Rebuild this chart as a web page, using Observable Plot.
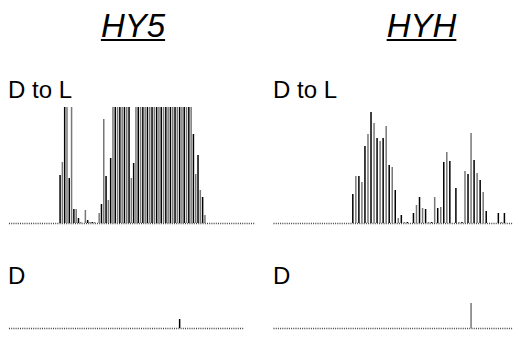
<!DOCTYPE html>
<html><head><meta charset="utf-8">
<script src="https://cdn.jsdelivr.net/npm/d3@7"></script>
<script src="https://cdn.jsdelivr.net/npm/@observablehq/plot@0.6"></script>
<style>
html,body{margin:0;padding:0;background:#fff;}
#wrap{position:relative;width:515px;height:358px;overflow:hidden;font-family:"Liberation Sans",Arial,sans-serif;}
.t{position:absolute;line-height:1;white-space:nowrap;color:#000;}
.title{font-size:33px;font-style:italic;text-decoration:underline;text-decoration-thickness:2px;text-underline-offset:2px;width:200px;text-align:center;}
.lab{font-size:24px;}
.p{position:absolute;}
</style></head><body>
<div id="wrap"></div>
<script>
// Genes (columns) and conditions (rows)
const genes = ["HY5", "HYH"];
const conditions = ["D to L", "D"];

// Read counts per bin (values >= 116 are clipped at the top of the track)
const hy5DtoL = [
  0,0,0,0,0,0,0,0,0,0, 0,0,0,0,0,0,0,0,0,0,
  0,0,48,61,150,150,45,150,14,14, 5,1,0,13,3,1,1,1,0,10,
  19,104,47,23,65,150,150,150,150,150, 150,150,150,45,60,150,150,150,150,150,
  150,150,150,150,150,150,150,150,150,150, 150,150,150,150,150,150,150,150,150,150,
  89,49,68,33,26,8,0,0,0,0, 0,0,0,0,0,0,0,0,0,0,
  0,0,0,0,0,0,0,0
];
const hy5D = [
  0,0,0,0,0,0,0,0,0,0, 0,0,0,0,0,0,0,0,0,0,
  0,0,0,0,0,0,0,0,0,0, 0,0,0,0,0,0,0,0,0,0,
  0,0,0,0,0,0,0,0,0,0, 0,0,0,0,0,0,0,0,0,0,
  0,0,0,0,0,0,0,0,0,0, 0,0,0,0,9,0,0,0,0,0,
  0,0,0,0,0,0,0,0,0,0, 0,0,0,0,0,0,0,0,0,0,
  0,0,0
];
const hyhDtoL = [
  0,0,0,0,0,0,0,0,0,0, 0,0,0,0,0,0,0,0,0,0,
  0,0,0,0,0,0,29,47,47,41, 77,89,111,100,85,82,85,97,58,56,
  33,5,8,1,1,0,10,18,26,15, 14,1,1,26,15,16,61,71,62,0,
  35,1,1,52,49,90,63,50,43,31, 12,0,0,0,10,1,10,0,0,0
];
const hyhD = [
  0,0,0,0,0,0,0,0,0,0, 0,0,0,0,0,0,0,0,0,0,
  0,0,0,0,0,0,0,0,0,0, 0,0,0,0,0,0,0,0,0,0,
  0,0,0,0,0,0,0,0,0,0, 0,0,0,0,0,0,0,0,0,0,
  0,0,0,0,0,25,0,0,0,0, 0,0,0,0,0,0,0,0,0,0
];
const yMax = 116;

const wrap = document.getElementById("wrap");
function text(cls, str, left, top) {
  const d = document.createElement("div");
  d.className = "t " + cls;
  d.textContent = str;
  d.style.left = left + "px";
  d.style.top = top + "px";
  wrap.appendChild(d);
}

function track(values, nBins, opts) {
  const idx = d3.range(values.length).filter(i => values[i] > 0);
  const even = idx.filter(i => i % 2 === 0);
  const odd = idx.filter(i => i % 2 === 1);
  const svg = Plot.plot({
    width: opts.width, height: opts.height,
    marginLeft: opts.ml, marginRight: opts.mr, marginTop: 0, marginBottom: 0,
    style: {background: "transparent", overflow: "visible"},
    x: {domain: [0, nBins - 1], axis: null},
    y: {domain: [0, yMax], range: opts.yRange, clamp: true, axis: null},
    marks: [
      Plot.ruleY([0], {x1: () => 0, x2: () => values.length - 1, stroke: "#444", strokeWidth: 1.6, strokeDasharray: "1,1.2"}),
      Plot.ruleX(odd, {x: i => i, y1: () => 0, y2: i => values[i], stroke: "#777", strokeWidth: 1.5}),
      Plot.ruleX(even, {x: i => i, y1: () => 0, y2: i => values[i], stroke: "#000", strokeWidth: 1.5})
    ]
  });
  const box = document.createElement("div");
  box.className = "p";
  box.style.left = opts.left + "px";
  box.style.top = opts.top + "px";
  box.appendChild(svg);
  wrap.appendChild(box);
}

// titles
text("title", genes[0], 33, 9);
text("title", genes[1], 321.5, 9);
// row labels
text("lab", conditions[0], 8, 78);
text("lab", conditions[0], 273, 78);
text("lab", conditions[1], 8, 264);
text("lab", conditions[1], 273, 264);

// tracks
track(hy5DtoL, 108, {left: 0, top: 100, width: 260, height: 126, ml: 9, mr: 5, yRange: [123, 7]});
track(hy5D, 108, {left: 0, top: 290, width: 260, height: 40, ml: 9, mr: 5, yRange: [38, -78]});
track(hyhDtoL, 80, {left: 260, top: 100, width: 255, height: 126, ml: 13.5, mr: 2, yRange: [123, 7]});
track(hyhD, 80, {left: 260, top: 290, width: 255, height: 40, ml: 13.5, mr: 2, yRange: [38, -78]});
</script>
</body></html>
